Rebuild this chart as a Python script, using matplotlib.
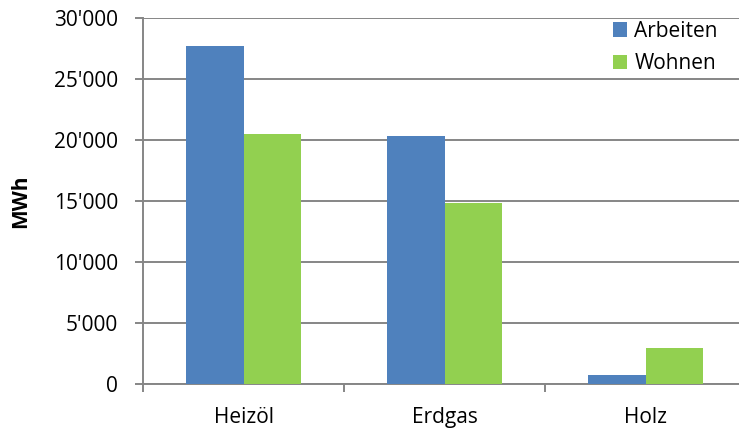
import matplotlib

matplotlib.use("Agg")

import matplotlib.pyplot as plt
import numpy as np
from matplotlib.ticker import FuncFormatter, FixedLocator

categories = ["Heizöl", "Erdgas", "Holz"]
series_names = ["Arbeiten", "Wohnen"]
arbeiten = [27760, 20310, 700]
wohnen = [20470, 14860, 2890]
y_ticks = [0, 5000, 10000, 15000, 20000, 25000, 30000]

BLUE = "#4F81BD"
GREEN = "#92D050"
GRAY = "#868686"
FS = 15

plt.rcParams["font.family"] = ["Open Sans", "DejaVu Sans"]

fig = plt.figure(figsize=(7.39, 4.34), dpi=100)
ax = fig.add_axes([143 / 739, 50.5 / 434, 603 / 739, 365.2 / 434])

x = np.arange(len(categories))
width = 0.286
ax.bar(x - width / 2, arbeiten, width, color=BLUE, label=series_names[0], zorder=3)
ax.bar(x + width / 2, wohnen, width, color=GREEN, label=series_names[1], zorder=3)

ax.set_xlim(-0.5, len(categories) - 0.5)
ax.set_ylim(0, 30000)
ax.yaxis.set_major_locator(FixedLocator(y_ticks))
ax.yaxis.set_major_formatter(FuncFormatter(lambda v, _: f"{v:,.0f}".replace(",", "'")))
ax.grid(axis="y", color=GRAY, linewidth=1.4, zorder=0)

ax.set_xticks(x)
ax.set_xticklabels(categories)
ax.set_xticks(np.arange(-0.5, len(categories), 1.0), minor=True)
ax.tick_params(axis="x", which="major", length=0, pad=17, labelsize=FS)
ax.tick_params(axis="x", which="minor", length=6, color=GRAY, width=1.4)
ax.tick_params(axis="y", length=6, color=GRAY, width=1.4, pad=12, labelsize=FS)

for side in ["top", "right"]:
    ax.spines[side].set_visible(False)
for side in ["left", "bottom"]:
    ax.spines[side].set_color(GRAY)
    ax.spines[side].set_linewidth(1.4)

ax.set_ylabel("MWh", fontsize=FS, fontweight="bold", labelpad=16)

fig.legend(
    loc="upper left",
    bbox_to_anchor=(598 / 739, 1 - 6 / 434),
    frameon=False,
    fontsize=FS,
    handlelength=0.7,
    handleheight=0.7,
    handletextpad=0.35,
    labelspacing=0.56,
    borderpad=0.2,
)

fig.savefig("out.png", dpi=100)
